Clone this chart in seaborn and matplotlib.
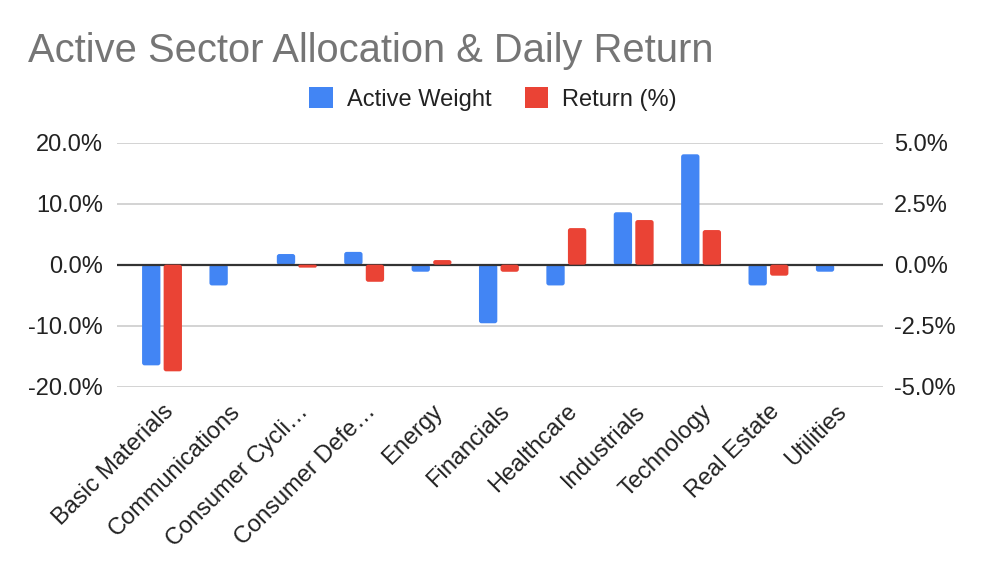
import numpy as np
import pandas as pd
import seaborn as sns
import matplotlib.pyplot as plt
from matplotlib.patches import Patch, FancyBboxPatch
from matplotlib.ticker import FuncFormatter

sectors = ["Basic Materials", "Communications", "Consumer Cyclical",
           "Consumer Defensive", "Energy", "Financials", "Healthcare",
           "Industrials", "Technology", "Real Estate", "Utilities"]
tick_labels = ["Basic Materials", "Communications", "Consumer Cycli\u2026",
               "Consumer Defe\u2026", "Energy", "Financials", "Healthcare",
               "Industrials", "Technology", "Real Estate", "Utilities"]
active_weight = [-16.5, -3.4, 1.75, 2.1, -1.15, -9.6, -3.4, 8.6, 18.1, -3.4, -1.15]
daily_return = [-4.37, 0.0, -0.12, -0.70, 0.19, -0.29, 1.50, 1.83, 1.42, -0.45, 0.0]
series = ["Active Weight", "Return (%)"]
colors = {"Active Weight": "#4285F4", "Return (%)": "#EA4335"}

df = pd.concat([
    pd.DataFrame({"sector": sectors, "series": series[0], "value": active_weight}),
    pd.DataFrame({"sector": sectors, "series": series[1], "value": daily_return}),
])

sns.set_theme(style="white")
plt.rcParams['font.family'] = ['Liberation Sans', 'DejaVu Sans']

fig = plt.figure(figsize=(9.86, 5.72), dpi=100)
ax1 = fig.add_axes([117/986, 1-386.7/572, (883-117)/986, (386.7-142.7)/572])
ax2 = ax1.twinx()

# gridlines first so bars sit on top
for v in [-20, -10, 10, 20]:
    ax1.axhline(v, color="#cccccc", lw=1.2, zorder=0)

sns.barplot(data=df[df.series == series[0]], x="sector", y="value", hue="series",
            hue_order=series, palette=colors, order=sectors, width=0.64, gap=0.15,
            dodge=True, legend=False, saturation=1, linewidth=0, ax=ax1, zorder=2)
sns.barplot(data=df[df.series == series[1]], x="sector", y="value", hue="series",
            hue_order=series, palette=colors, order=sectors, width=0.64, gap=0.15,
            dodge=True, legend=False, saturation=1, linewidth=0, ax=ax2, zorder=2)

ax1.set_ylim(-20, 20)
ax2.set_ylim(-5, 5)
ax1.set_xlim(-0.668, 10.70)
ax2.set_xlim(-0.668, 10.70)


def round_bars(ax, radius_px=2.5):
    # swap plain rectangles for slightly rounded ones like the original
    fig.canvas.draw()
    bb = ax.get_window_extent()
    x0, x1 = ax.get_xlim()
    y0, y1 = ax.get_ylim()
    xpp = (x1 - x0) / bb.width
    ypp = (y1 - y0) / bb.height
    for p in list(ax.patches):
        x, y, w, h = p.get_x(), p.get_y(), p.get_width(), p.get_height()
        fc = p.get_facecolor()
        z = p.get_zorder()
        p.remove()
        if abs(h) < 1e-9:
            continue
        r = min(radius_px, abs(h) / ypp / 2, w / xpp / 2) * xpp
        ax.add_patch(FancyBboxPatch((x, min(y, y + h)), w, abs(h),
                                    boxstyle=f"round,pad=0,rounding_size={r}",
                                    mutation_aspect=ypp / xpp, fc=fc, ec="none",
                                    zorder=z))


round_bars(ax1)
round_bars(ax2)

ax1.axhline(0, color="#333333", lw=1.6, zorder=3)

ax1.set_yticks([-20, -10, 0, 10, 20])
ax2.set_yticks([-5, -2.5, 0, 2.5, 5])
ax1.yaxis.set_major_formatter(FuncFormatter(lambda v, p: f"{v:.1f}%"))
ax2.yaxis.set_major_formatter(FuncFormatter(lambda v, p: f"{v:.1f}%"))

ax1.set_xticks(range(len(sectors)))
ax1.set_xticklabels(tick_labels, rotation=45, ha="right", rotation_mode="anchor")
for a in (ax1, ax2):
    a.set_xlabel("")
    a.set_ylabel("")
    a.grid(False)
    for s in a.spines.values():
        s.set_visible(False)
ax1.tick_params(axis="x", length=0, pad=10, labelsize=17, labelcolor="#222222")
ax1.tick_params(axis="y", length=0, pad=10, labelsize=17, labelcolor="#222222")
ax2.tick_params(axis="y", length=0, pad=8, labelsize=17, labelcolor="#222222")

fig.text(28/986, 1-62/572, "Active Sector Allocation & Daily Return",
         fontsize=28.7, color="#757575", ha="left", va="baseline")

handles = [Patch(facecolor=colors[s], edgecolor="none", label=s) for s in series]
fig.legend(handles=handles, loc="center", bbox_to_anchor=(493/986, 1-99/572),
           ncol=2, frameon=False, fontsize=17, handlelength=1.0, handleheight=1.0,
           handletextpad=0.6, columnspacing=1.4, labelcolor="#222222")

fig.savefig("out.png", dpi=100)
